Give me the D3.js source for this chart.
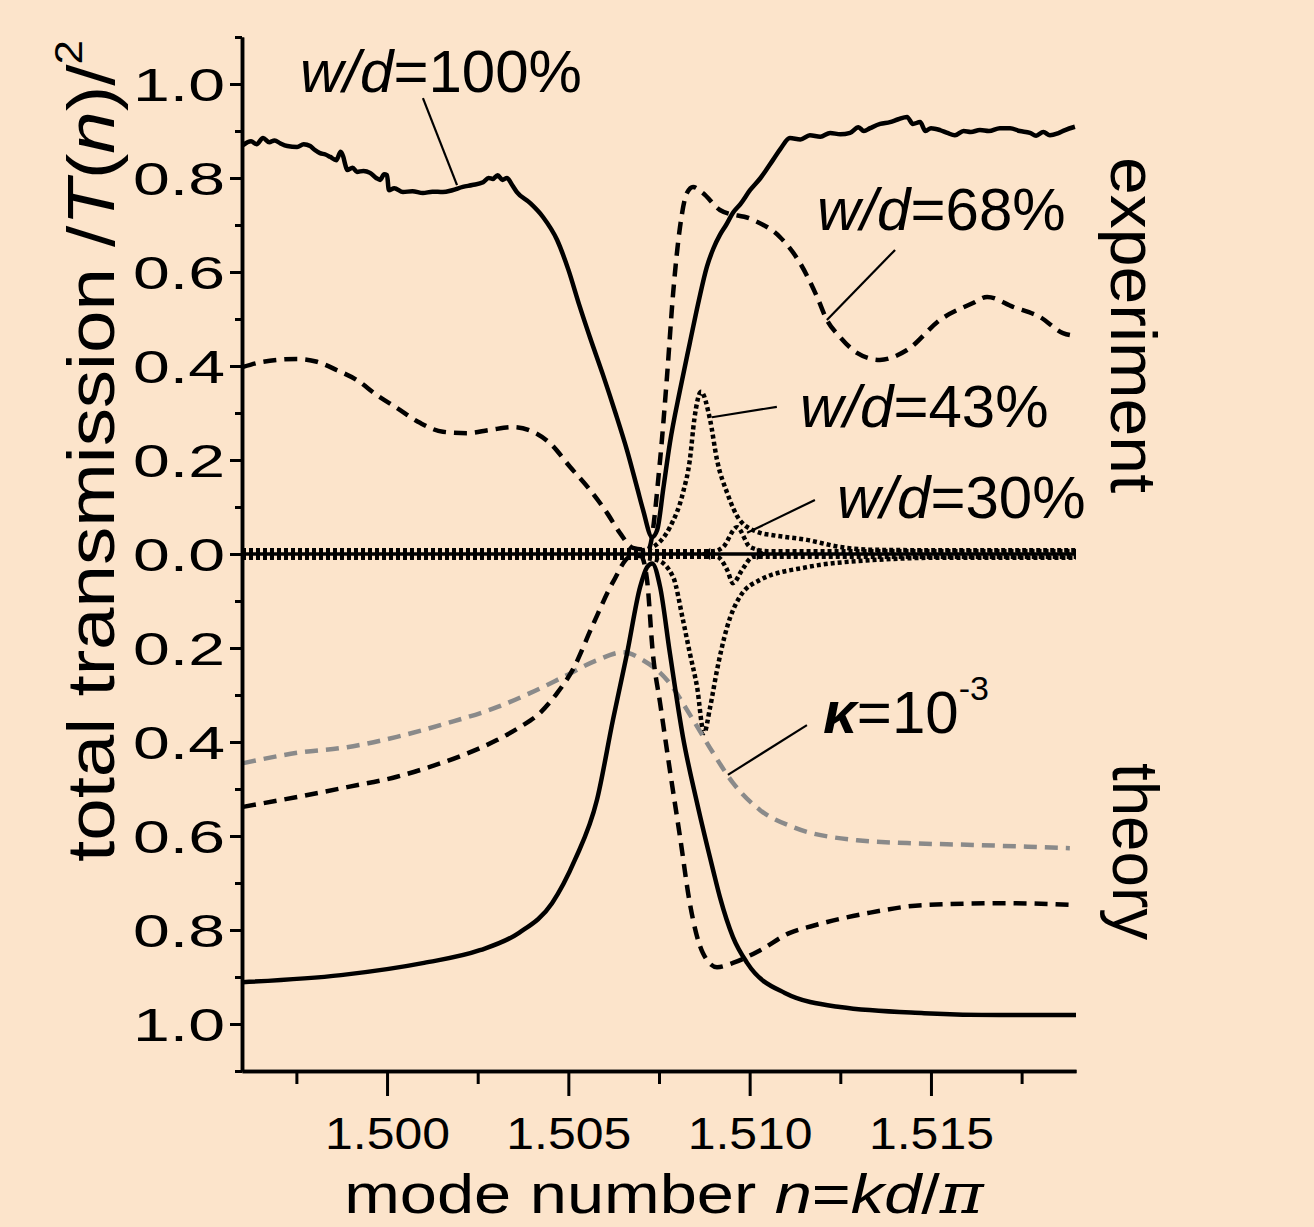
<!DOCTYPE html>
<html>
<head>
  <meta charset="utf-8">
  <script src="https://d3js.org/d3.v7.min.js"></script>
  <style>
    body { margin: 0; background: #fce4cb; }
    svg { display: block; font-family: "Liberation Sans", Arial, sans-serif; }
  </style>
</head>
<body>
<div id="chart"></div>
<script>

// mode number n = kd/pi ; experiment values above zero, theory magnitudes drawn below zero
var exp100 = [[1.49603,0.870],[1.49625,0.878],[1.49640,0.872],[1.49658,0.885],[1.49675,0.876],[1.49690,0.880],
  [1.49705,0.874],[1.49725,0.868],[1.49752,0.866],[1.49770,0.872],[1.49788,0.868],[1.49800,0.860],[1.49815,0.853],
  [1.49830,0.850],[1.49843,0.845],[1.49860,0.838],[1.49872,0.856],[1.49879,0.846],[1.49885,0.828],[1.49890,0.817],
  [1.49905,0.822],[1.49917,0.813],[1.49935,0.815],[1.49953,0.811],[1.49970,0.800],[1.49981,0.796],[1.49992,0.808],
  [1.50000,0.806],[1.50005,0.774],[1.50020,0.778],[1.50044,0.770],[1.50070,0.772],[1.50099,0.768],[1.50125,0.771],
  [1.50154,0.770],[1.50180,0.774],[1.50209,0.781],[1.50235,0.785],[1.50265,0.791],[1.50280,0.800],[1.50292,0.798],
  [1.50305,0.806],[1.50318,0.796],[1.50331,0.800],[1.50345,0.785],[1.50358,0.770],[1.50394,0.747],[1.50430,0.717],
  [1.50469,0.668],[1.50500,0.605],[1.50530,0.530],[1.50560,0.460],[1.50596,0.380],[1.50630,0.300],[1.50662,0.220],
  [1.50690,0.140],[1.50706,0.094],[1.50731,0.036],[1.50745,0.051],[1.50762,0.140],[1.50780,0.236],[1.50808,0.349],
  [1.50835,0.449],[1.50860,0.540],[1.50882,0.611],[1.50900,0.650],[1.50918,0.679],[1.50935,0.700],[1.50954,0.726],
  [1.50975,0.745],[1.51001,0.774],[1.51030,0.800],[1.51064,0.838],[1.51085,0.862],[1.51111,0.885],[1.51140,0.882],
  [1.51166,0.891],[1.51195,0.888],[1.51222,0.896],[1.51250,0.893],[1.51277,0.896],[1.51300,0.908],[1.51315,0.900],
  [1.51332,0.906],[1.51360,0.915],[1.51387,0.919],[1.51410,0.925],[1.51434,0.930],[1.51450,0.915],[1.51470,0.919],
  [1.51485,0.900],[1.51500,0.906],[1.51525,0.902],[1.51545,0.896],[1.51566,0.891],[1.51590,0.900],[1.51610,0.898],
  [1.51635,0.902],[1.51660,0.900],[1.51690,0.906],[1.51718,0.906],[1.51745,0.900],[1.51773,0.896],[1.51790,0.890],
  [1.51810,0.898],[1.51828,0.891],[1.51850,0.895],[1.51870,0.902],[1.51897,0.909]];

var exp68 = [[1.49603,0.398],[1.49658,0.409],[1.49752,0.415],[1.49807,0.409],[1.49862,0.391],[1.49917,0.370],
  [1.49972,0.338],[1.50027,0.311],[1.50091,0.279],[1.50154,0.260],[1.50221,0.257],[1.50284,0.264],[1.50347,0.270],
  [1.50403,0.260],[1.50449,0.236],[1.50505,0.185],[1.50560,0.136],[1.50607,0.087],[1.50642,0.045],[1.50678,0.013],
  [1.50720,0.009],[1.50753,0.200],[1.50772,0.377],[1.50789,0.555],[1.50808,0.696],[1.50827,0.768],[1.50844,0.781],
  [1.50871,0.768],[1.50918,0.732],[1.51009,0.711],[1.51084,0.674],[1.51139,0.619],[1.51186,0.547],[1.51213,0.498],
  [1.51249,0.462],[1.51296,0.428],[1.51359,0.413],[1.51434,0.434],[1.51525,0.498],[1.51616,0.534],[1.51655,0.547],
  [1.51726,0.526],[1.51801,0.504],[1.51864,0.470],[1.51897,0.464]];

var exp43 = [[1.49600,0.008],[1.50600,0.008],[1.50700,0.008],[1.50733,0.015],[1.50780,0.057],[1.50816,0.130],
  [1.50835,0.200],[1.50848,0.290],[1.50866,0.345],[1.50891,0.285],[1.50910,0.200],[1.50938,0.130],[1.50973,0.072],
  [1.51029,0.045],[1.51064,0.040],[1.51158,0.030],[1.51249,0.015],[1.51340,0.009],[1.51525,0.008],[1.51900,0.008]];

var exp30 = [[1.49600,0.006],[1.50900,0.006],[1.50927,0.015],[1.50965,0.057],[1.51001,0.015],[1.51050,0.006],
  [1.51900,0.006]];

var th100 = [[1.49600,0.911],[1.49873,0.896],[1.50102,0.870],[1.50256,0.843],[1.50364,0.806],[1.50455,0.743],
  [1.50518,0.651],[1.50579,0.523],[1.50623,0.353],[1.50662,0.211],[1.50698,0.070],[1.50717,0.028],[1.50731,0.020],
  [1.50753,0.070],[1.50780,0.211],[1.50816,0.389],[1.50855,0.530],[1.50899,0.672],[1.50918,0.730],[1.50954,0.815],
  [1.50993,0.870],[1.51097,0.934],[1.51249,0.964],[1.51481,0.977],[1.51690,0.981],[1.51900,0.981]];

var th68 = [[1.49603,0.538],[1.49752,0.517],[1.49890,0.496],[1.50027,0.474],[1.50118,0.453],[1.50209,0.428],
  [1.50303,0.396],[1.50367,0.368],[1.50422,0.338],[1.50469,0.296],[1.50513,0.245],[1.50568,0.150],[1.50623,0.060],
  [1.50670,0.006],[1.50700,0.004],[1.50717,0.055],[1.50733,0.211],[1.50753,0.317],[1.50780,0.460],[1.50808,0.602],
  [1.50835,0.743],[1.50871,0.849],[1.50910,0.879],[1.50954,0.870],[1.51029,0.843],[1.51111,0.806],[1.51175,0.791],
  [1.51326,0.764],[1.51481,0.747],[1.51710,0.743],[1.51894,0.747]];

var thKappa = [[1.49603,0.445],[1.49752,0.423],[1.49890,0.411],[1.50027,0.389],[1.50165,0.360],[1.50303,0.326],
  [1.50394,0.296],[1.50485,0.262],[1.50579,0.226],[1.50651,0.209],[1.50706,0.226],[1.50772,0.268],[1.50844,0.353],
  [1.50899,0.423],[1.50954,0.487],[1.51029,0.545],[1.51120,0.581],[1.51296,0.609],[1.51434,0.615],[1.51616,0.619],
  [1.51883,0.626]];

var th43 = [[1.49600,0.008],[1.50700,0.008],[1.50745,0.013],[1.50789,0.049],[1.50816,0.140],[1.50835,0.211],
  [1.50855,0.283],[1.50874,0.381],[1.50891,0.326],[1.50910,0.247],[1.50938,0.155],[1.50973,0.091],[1.51029,0.055],
  [1.51158,0.028],[1.51340,0.013],[1.51525,0.008],[1.51900,0.008]];

var th30 = [[1.49600,0.006],[1.50910,0.006],[1.50938,0.034],[1.50954,0.062],[1.50979,0.034],[1.51010,0.006],
  [1.51900,0.006]];

var xMajor = [1.500, 1.505, 1.510, 1.515];
var xMinor = [1.4975, 1.5025, 1.5075, 1.5125, 1.5175];
var yMajor = [-1.0, -0.8, -0.6, -0.4, -0.2, 0.0, 0.2, 0.4, 0.6, 0.8, 1.0];
var yMinor = [-1.1, -0.9, -0.7, -0.5, -0.3, -0.1, 0.1, 0.3, 0.5, 0.7, 0.9, 1.1];

// leader lines [n1, v1, n2, v2] (v negative = theory side)
var leaders = [[1.50099,0.970,1.50193,0.785],[1.51401,0.647,1.51213,0.498],[1.51075,0.313,1.50896,0.291],
  [1.51180,0.115,1.50993,0.045],[1.51158,-0.364,1.50940,-0.470]];
var arrowMarks = [[1.50882, -90], [1.51029, 90]];

var W = 1314, H = 1227;
var svg = d3.select('#chart').append('svg').attr('width', W).attr('height', H);
svg.append('rect').attr('width', W).attr('height', H).attr('fill', '#fce4cb');

var x = d3.scaleLinear().domain([1.496, 1.519]).range([242, 1076]);
var y = d3.scaleLinear().domain([-1.1, 1.1]).range([1071, 37]);

var up = d3.line().x(function(d){ return x(d[0]); }).y(function(d){ return y(d[1]); });
var down = d3.line().x(function(d){ return x(d[0]); }).y(function(d){ return y(-d[1]); });

function draw(data, gen, curve, color, width, dash) {
  svg.append('path').datum(data)
    .attr('d', gen.curve(curve))
    .attr('fill', 'none').attr('stroke', color).attr('stroke-width', width)
    .attr('stroke-dasharray', dash || null)
    .attr('stroke-linejoin', 'round');
}

// zero line
svg.append('line').attr('x1', x(1.496)).attr('x2', x(1.519)).attr('y1', y(0)).attr('y2', y(0))
  .attr('stroke', '#000').attr('stroke-width', 3.5);

draw(exp43, up, d3.curveMonotoneX, '#000', 4.5, '4,3');
draw(exp30, up, d3.curveMonotoneX, '#000', 4.5, '4,3');
draw(th43, down, d3.curveMonotoneX, '#000', 4.5, '4,3');
draw(th30, down, d3.curveMonotoneX, '#000', 4.5, '4,3');
draw(thKappa, down, d3.curveMonotoneX, '#8a8a8a', 4.5, '13,8');
draw(th68, down, d3.curveMonotoneX, '#000', 4.5, '13,8');
draw(th100, down, d3.curveMonotoneX, '#000', 4.5);
draw(exp68, up, d3.curveMonotoneX, '#000', 4.5, '13,8');
draw(exp100, up, d3.curveMonotoneX, '#000', 4.5);

svg.selectAll('.arrowMark').data(arrowMarks).enter().append('path')
  .attr('d', d3.symbol().type(d3.symbolTriangle).size(60))
  .attr('transform', function(d){ return 'translate(' + x(d[0]) + ',' + y(0) + ') rotate(' + d[1] + ')'; })
  .attr('fill', '#000');

svg.selectAll('.leader').data(leaders).enter().append('line')
  .attr('x1', function(d){ return x(d[0]); }).attr('y1', function(d){ return y(d[1]); })
  .attr('x2', function(d){ return x(d[2]); }).attr('y2', function(d){ return y(d[3]); })
  .attr('stroke', '#000').attr('stroke-width', 2.2);

// axes
var gy = svg.append('g').attr('transform', 'translate(242,0)')
  .call(d3.axisLeft(y).tickValues(yMajor).tickSize(12).tickSizeOuter(0).tickPadding(5)
    .tickFormat(function(d){ return Math.abs(d).toFixed(1); }));
svg.append('g').attr('transform', 'translate(242,0)')
  .call(d3.axisLeft(y).tickValues(yMinor).tickSize(7).tickSizeOuter(0).tickFormat(''));
var gx = svg.append('g').attr('transform', 'translate(0,1071)')
  .call(d3.axisBottom(x).tickValues(xMajor).tickSize(25).tickSizeOuter(0).tickPadding(21)
    .tickFormat(d3.format('.3f')));
svg.append('g').attr('transform', 'translate(0,1071)')
  .call(d3.axisBottom(x).tickValues(xMinor).tickSize(13).tickSizeOuter(0).tickFormat(''));

svg.selectAll('.domain').attr('stroke-width', 3.5);
svg.selectAll('.tick line').attr('stroke-width', 3);
gy.selectAll('text').attr('font-size', 46).attr('font-family', '"Liberation Sans", Arial, sans-serif')
  .attr('fill', '#000').attr('dy', '0.35em')
  .attr('textLength', 92).attr('lengthAdjust', 'spacingAndGlyphs');
gx.selectAll('text').attr('font-size', 45).attr('font-family', '"Liberation Sans", Arial, sans-serif')
  .attr('fill', '#000').attr('textLength', 125).attr('lengthAdjust', 'spacingAndGlyphs');

// stretch a text group horizontally to a target width
function fit(g, target) {
  var w = g.node().getBBox().width;
  return target / w;
}

// axis titles
var xt = svg.append('g');
var xtText = xt.append('text').attr('font-size', 56).attr('text-anchor', 'middle');
xtText.append('tspan').text('mode number ');
xtText.append('tspan').attr('font-style', 'italic').text('n');
xtText.append('tspan').text('=');
xtText.append('tspan').attr('font-style', 'italic').text('kd');
xtText.append('tspan').text('/');
xtText.append('tspan').attr('font-style', 'italic').attr('font-family', '"DejaVu Serif", serif').text('π');
xt.attr('transform', 'translate(664,1213) scale(' + fit(xt, 641) + ',1)');

var yt = svg.append('g');
var ytText = yt.append('text').attr('font-size', 66);
ytText.append('tspan').text('total transmission /');
ytText.append('tspan').attr('font-style', 'italic').text('T');
ytText.append('tspan').text('(');
ytText.append('tspan').attr('font-style', 'italic').text('n');
ytText.append('tspan').text(')/');
ytText.append('tspan').attr('font-size', 38).attr('dy', -32).text('2');
yt.attr('transform', 'translate(114,862) rotate(-90) scale(' + fit(yt, 822) + ',1)');

// series labels
function wdLabel(pct, n, v) {
  var t = svg.append('text').attr('x', x(n)).attr('y', y(v)).attr('font-size', 60);
  t.append('tspan').attr('font-style', 'italic').text('w/d');
  t.append('tspan').text('=' + pct + '%');
}
wdLabel(100, 1.49760, 0.983);
wdLabel(68, 1.51186, 0.689);
wdLabel(43, 1.51139, 0.270);
wdLabel(30, 1.51241, 0.077);

var kt = svg.append('text').attr('x', x(1.51202)).attr('y', y(-0.381)).attr('font-size', 60);
kt.append('tspan').attr('font-style', 'italic').attr('font-weight', 'bold').text('κ');
kt.append('tspan').text('=10');
kt.append('tspan').attr('font-size', 34).attr('dy', -33).text('-3');

svg.append('text').attr('transform', 'translate(1111,157) rotate(90)').attr('font-size', 64)
  .attr('textLength', 336).attr('lengthAdjust', 'spacingAndGlyphs').text('experiment');
svg.append('text').attr('transform', 'translate(1113,763) rotate(90)').attr('font-size', 64)
  .attr('textLength', 177).attr('lengthAdjust', 'spacingAndGlyphs').text('theory');

</script>
</body>
</html>
